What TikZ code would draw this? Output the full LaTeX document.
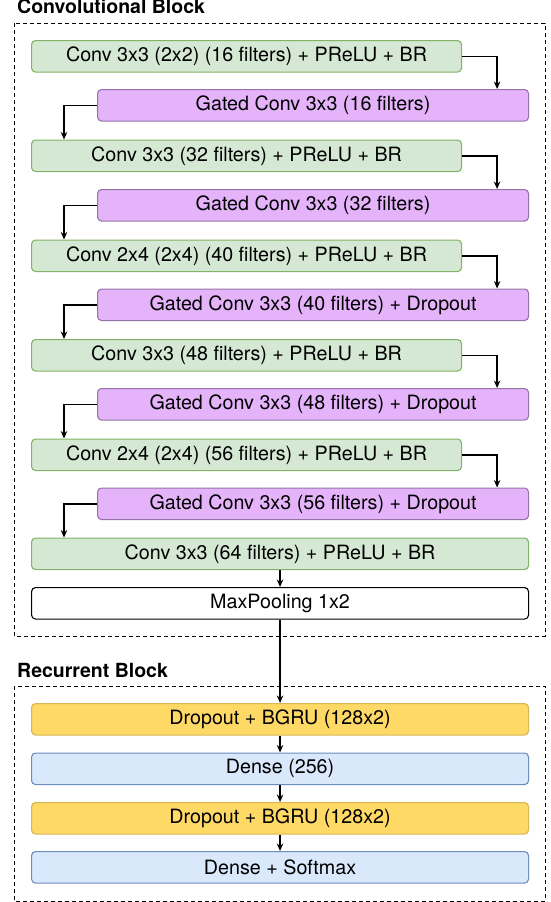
\documentclass[tikz,border=0pt]{standalone}
\usepackage{fontspec}
\setmainfont{TeX Gyre Heros}
\usetikzlibrary{arrows.meta}
\definecolor{gfill}{HTML}{D5E8D4}
\definecolor{gline}{HTML}{82B366}
\definecolor{pfill}{HTML}{E5B3FA}
\definecolor{pline}{HTML}{9673A6}
\definecolor{yfill}{HTML}{FFD966}
\definecolor{yline}{HTML}{D6B656}
\definecolor{bfill}{HTML}{DAE8FC}
\definecolor{bline}{HTML}{6C8EBF}
\tikzset{
  box/.style={draw, line width=1.1pt, rounded corners=4pt, anchor=north west, inner sep=0pt,
    minimum height=31.5pt, font=\fontsize{19.7}{22}\selectfont, text=black},
  gbox/.style={box, fill=gfill, draw=gline, minimum width=430pt},
  gwide/.style={box, fill=gfill, draw=gline, minimum width=497pt},
  pbox/.style={box, fill=pfill, draw=pline, minimum width=431pt},
  wbox/.style={box, fill=white, draw=black, minimum width=497pt},
  ybox/.style={box, fill=yfill, draw=yline, minimum width=497pt},
  bbox/.style={box, fill=bfill, draw=bline, minimum width=497pt},
  arr/.style={line width=1.4pt, -{Stealth[length=7.5pt,width=6.5pt]}},
  frame/.style={line width=1pt, dash pattern=on 4pt off 3pt},
  title/.style={anchor=base west, inner sep=0pt, font=\fontsize{19.5}{22}\bfseries\selectfont}
}
\begin{document}
\begin{tikzpicture}[x=1pt,y=-1pt]
\useasboundingbox (0,0) rectangle (551,902);
% frames
\draw[frame] (14,23) rectangle (545,636);
\draw[frame] (14,686) rectangle (545,901);
\node[title] (t1) at (17,13) {Convolutional Block};
\node[title] (t2) at (17,677) {Recurrent Block};
% conv block
\node[gbox] (g1) at (31,40) {Conv 3x3 (2x2) (16 filters) + PReLU + BR};
\node[pbox] (p1) at (97,89) {Gated Conv 3x3 (16 filters)};
\node[gbox] (g2) at (31,139.5) {Conv 3x3 (32 filters) + PReLU + BR};
\node[pbox] (p2) at (97,189) {Gated Conv 3x3 (32 filters)};
\node[gbox] (g3) at (31,239.5) {Conv 2x4 (2x4) (40 filters) + PReLU + BR};
\node[pbox] (p3) at (97,288.5) {Gated Conv 3x3 (40 filters) + Dropout};
\node[gbox] (g4) at (31,339) {Conv 3x3 (48 filters) + PReLU + BR};
\node[pbox] (p4) at (97,388) {Gated Conv 3x3 (48 filters) + Dropout};
\node[gbox] (g5) at (31,438.5) {Conv 2x4 (2x4) (56 filters) + PReLU + BR};
\node[pbox] (p5) at (97,487.5) {Gated Conv 3x3 (56 filters) + Dropout};
\node[gwide] (g6) at (31,537.5) {Conv 3x3 (64 filters) + PReLU + BR};
\node[wbox] (mp) at (31,587) {MaxPooling 1x2};
% recurrent block
\node[ybox] (r1) at (31,703) {Dropout + BGRU (128x2)};
\node[bbox] (r2) at (31,752.5) {Dense (256)};
\node[ybox] (r3) at (31,802) {Dropout + BGRU (128x2)};
\node[bbox] (r4) at (31,851) {Dense + Softmax};
% connectors
\foreach \g/\p in {g1/p1,g2/p2,g3/p3,g4/p4,g5/p5}{
  \draw[arr] (\g.east) -| ([xshift=-32pt]\p.north east);
}
\foreach \p/\g in {p1/g2,p2/g3,p3/g4,p4/g5,p5/g6}{
  \draw[arr] (\p.west) -| ([xshift=33pt]\g.north west);
}
\draw[arr] (g6.south) -- (mp.north);
\draw[arr] (mp.south) -- (r1.north);
\draw[arr] (r1.south) -- (r2.north);
\draw[arr] (r2.south) -- (r3.north);
\draw[arr] (r3.south) -- (r4.north);
\end{tikzpicture}
\end{document}
